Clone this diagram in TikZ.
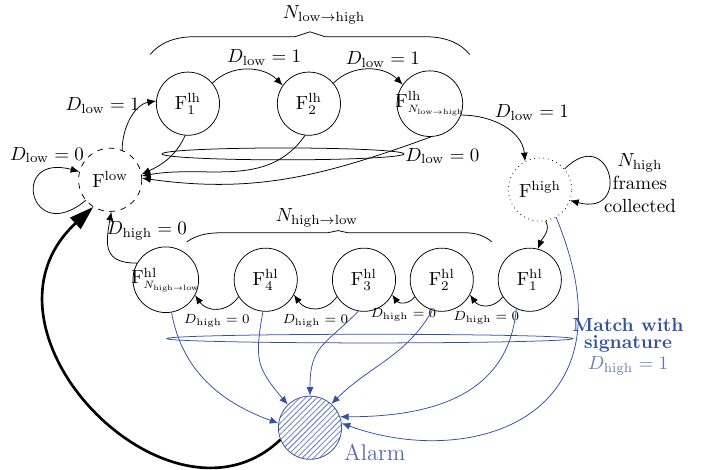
\documentclass[tikz,border=0pt]{standalone}
\usepackage{amsmath}
\usepackage{tikz}
\usetikzlibrary{arrows.meta, patterns}

\definecolor{sigblue}{RGB}{50,80,165}
\newcommand{\Nsub}[2]{\scalebox{0.8}{$\scriptstyle N_{\mathrm{#1}\to\mathrm{#2}}$}}

\begin{document}
\begin{tikzpicture}[
    state/.style={circle, draw, minimum size=1.17cm, inner sep=0pt},
    trans/.style={-{Latex[length=1.6mm, width=1.3mm]}},
    match/.style={trans, sigblue},
    small/.style={font=\scriptsize, below, inner sep=0pt, yshift=-3pt},
    alarmloop/.style={line width=1.4pt, -{Triangle[length=4.5mm, width=2.8mm]}}
  ]
    % Fix the size of the page
    \useasboundingbox (0,0) rectangle (13.11,8.70);

    % The states
    \node[state, dashed] (Flow) at (2.04,5.37) {$\mathrm{F}^{\mathrm{low}}$};
    \node[state] (Flh1) at (3.48,6.78) {$\mathrm{F}^{\mathrm{lh}}_1$};
    \node[state] (Flh2) at (5.72,6.78) {$\mathrm{F}^{\mathrm{lh}}_2$};
    \node[state, inner sep=-1.5pt] (Flhn) at (7.96,6.78) {$\mathrm{F}^{\mathrm{lh}}_{\Nsub{low}{high}}$};
    \node[state, dotted] (Fhigh) at (10.0,5.19) {$\mathrm{F}^{\mathrm{high}}$};
    \node[state] (Fhl1) at (9.81,3.52) {$\mathrm{F}^{\mathrm{hl}}_1$};
    \node[state] (Fhl2) at (8.18,3.52) {$\mathrm{F}^{\mathrm{hl}}_2$};
    \node[state] (Fhl3) at (6.74,3.52) {$\mathrm{F}^{\mathrm{hl}}_3$};
    \node[state] (Fhl4) at (4.92,3.52) {$\mathrm{F}^{\mathrm{hl}}_4$};
    \node[state, inner sep=-1.5pt] (Fhln) at (3.07,3.52) {$\mathrm{F}^{\mathrm{hl}}_{\Nsub{high}{low}}$};
    \node[state, draw=sigblue, pattern=north east lines, pattern color=sigblue!75] (alarm) at (5.74,0.78) {};
    \node[sigblue!85, font=\large] (alarmtext) at (6.94,0.33) {Alarm};

    % Braces over the two chains
    \draw (2.78,7.69) .. controls (2.96,7.91) and (3.24,8.02) .. (3.61,8.02) -- (5.46,8.02)
        -- (5.74,8.11) -- (6.02,8.02) -- (7.87,8.02) .. controls (8.24,8.02) and (8.52,7.91) .. (8.70,7.69);
    \node (nlh) at (6.0,8.43) {$N_{\mathrm{low}\to\mathrm{high}}$};
    \draw (3.46,4.22) .. controls (3.61,4.33) and (3.80,4.39) .. (4.11,4.39) -- (6.07,4.39)
        -- (6.26,4.43) -- (6.44,4.39) -- (8.61,4.39) .. controls (8.85,4.39) and (9.0,4.31) .. (9.11,4.22);
    \node (nhl) at (5.87,4.67) {$N_{\mathrm{high}\to\mathrm{low}}$};

    % Low to high
    \draw[trans] (Flow.220) .. controls +(220:1.35) and +(165:1.35) .. (Flow.165);
    \node (dlow0) at (0.87,5.83) {$D_{\mathrm{low}}=0$};
    \draw[trans] (Flow.68) to[out=90, in=190, looseness=0.95] (Flh1.175);
    \node (dlow1) at (1.90,6.74) {$D_{\mathrm{low}}=1$};
    \draw[trans] (Flh1.40) to[out=45, in=135] (Flh2.145);
    \node (dlow2) at (4.89,7.63) {$D_{\mathrm{low}}=1$};
    \draw[trans] (Flh2.40) to[out=45, in=135] (Flhn.145);
    \node (dlow3) at (7.09,7.59) {$D_{\mathrm{low}}=1$};
    \draw[trans] (Flhn.-20) to[out=0, in=95] (Fhigh.118);
    \node (dlow4) at (9.85,6.61) {$D_{\mathrm{low}}=1$};

    % Back to low
    \draw[trans] (Flh1.-95) to[out=-115, in=25] (Flow.10);
    \draw[trans] (Flh2.-97) to[out=-125, in=10] (Flow.7);
    \draw[trans] (Flhn.-88) to[out=200, in=-8] (Flow.3);
    \draw (5.24,5.85) ellipse [x radius=2.24, y radius=0.11];
    \node (dlowback) at (8.19,5.81) {$D_{\mathrm{low}}=0$};

    % High state
    \draw[trans] (Fhigh.40) .. controls +(45:1.2) and +(-15:1.2) .. (Fhigh.-20);
    \node[align=center] (nhigh) at (11.85,5.31) {$N_{\mathrm{high}}$\\frames\\collected};
    \draw[trans] (Fhigh.-80) to[out=-60, in=70] (Fhl1.75);

    % High to low
    \foreach \a/\b [count=\i] in {Fhl1/Fhl2, Fhl2/Fhl3, Fhl3/Fhl4, Fhl4/Fhln}
        \draw[trans] (\a.212) to[out=235, in=-55, looseness=1.2] node[small] (dhigh\i) {$D_{\mathrm{high}}=0$} (\b.-28);
    \draw[trans] (Fhln.150) to[out=180, in=-100, looseness=1.5] (Flow.-88);
    \node (dhigh0) at (2.72,4.43) {$D_{\mathrm{high}}=0$};

    % Match with signature
    \draw[match] (Fhln.-80) to[out=-80, in=160] (alarm.172);
    \draw[match] (Fhl4.-95) to[out=-100, in=130, looseness=1.3] (alarm.134);
    \draw[match] (Fhl3.-100) to[out=-135, in=90, looseness=1.3] (alarm.90);
    \draw[match] (Fhl2.-107) to[out=-120, in=45] (alarm.48);
    \draw[match] (Fhl1.-115) to[out=-95, in=0, looseness=1.1] (alarm.20);
    \draw[match] (Fhigh.-60) .. controls (11.85,0.93) and (8.70,0.0) .. (alarm.8);
    \draw[sigblue] (6.85,2.43) ellipse [x radius=3.76, y radius=0.08];
    \node[sigblue, align=center, font=\bfseries] (matchtext) at (11.63,2.28)
        {Match with\\[-3pt]signature\\[-1pt]\textcolor{sigblue!75}{$D_{\mathrm{high}}=1$}};

    % Alarm back to low
    \draw[alarmloop] (alarm.202) .. controls (3.15,-1.39) and (-0.74,2.59) .. (Flow.238);
\end{tikzpicture}
\end{document}
